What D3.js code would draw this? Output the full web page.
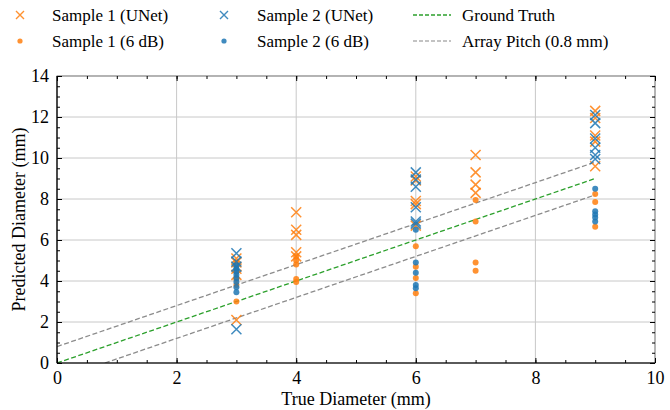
<!DOCTYPE html>
<html><head><meta charset="utf-8">
<script src="https://cdn.jsdelivr.net/npm/d3@7"></script>
<style>body{margin:0;background:#fff}svg{display:block}</style>
</head><body><svg id="c" width="670" height="410"></svg>
<script>
// ---- data ----
const s1UnetX = [3,3,3,3,3, 4,4,4,4,4, 6,6,6,6,6, 7,7,7,7, 9,9,9,9,9];
const s1UnetY = [5.1,4.9,4.6,4.3,2.1, 7.35,6.5,6.25,5.4,5.2, 9.1,8.9,7.9,7.75,6.7, 10.15,9.3,8.7,8.3, 12.3,11.95,11.1,10.8,9.6];
const s2UnetX = [3,3,3,3, 6,6,6,6,6,6, 9,9,9,9,9,9];
const s2UnetY = [5.35,4.95,4.7,1.65, 9.3,8.95,8.6,7.6,6.9,6.8, 12.1,11.7,10.95,10.5,10.15,9.95];
const s1DbX = [3,3,3,3,3, 4,4,4,4,4, 6,6,6,6, 7,7,7,7, 9,9,9];
const s1DbY = [4.9,4.5,4.1,3.8,3.0, 5.2,5.0,4.8,4.1,3.95, 5.7,4.7,4.15,3.4, 7.95,6.9,4.9,4.5, 8.25,7.85,6.65];
const s2DbX = [3,3,3,3,3,3,3,3, 6,6,6,6,6, 9,9,9,9,9];
const s2DbY = [4.75,4.6,4.45,4.3,4.15,3.95,3.7,3.45, 6.5,4.9,4.4,3.8,3.65, 8.5,7.4,7.25,7.1,6.9];
const lineXs = [0, 9];
const pitch = 0.8;
const xTicks = [0,2,4,6,8,10];
const yTicks = [0,2,4,6,8,10,12,14];
const legendLabels = ["Sample 1 (UNet)","Sample 1 (6 dB)","Sample 2 (UNet)","Sample 2 (6 dB)","Ground Truth","Array Pitch (0.8 mm)"];

// ---- chart ----
const W=670,H=410, L=57, R=655, T=76, B=363;
const FONT='"Liberation Serif","Times New Roman","DejaVu Serif",serif';
const FS=18, LFS=17;
const orange="#ff7f0e", blue="#1f77b4", green="#2ca02c", gray="#8c8c8c";
const svg=d3.select("#c");
const x=d3.scaleLinear().domain([0,10]).range([L,R]);
const y=d3.scaleLinear().domain([0,14]).range([B,T]);

// grid
const g=svg.append("g");
g.selectAll(".gx").data(xTicks.slice(1,-1)).join("line")
 .attr("x1",d=>x(d)).attr("x2",d=>x(d)).attr("y1",T).attr("y2",B)
 .attr("stroke","#c8c8c8").attr("stroke-width",1);
g.selectAll(".gy").data(yTicks.slice(1,-1)).join("line")
 .attr("y1",d=>y(d)).attr("y2",d=>y(d)).attr("x1",L).attr("x2",R)
 .attr("stroke","#c8c8c8").attr("stroke-width",1);

// reference lines
svg.append("clipPath").attr("id","cp").append("rect").attr("x",L).attr("y",T).attr("width",R-L).attr("height",B-T);
const lg=svg.append("g").attr("clip-path","url(#cp)");
const ln=d3.line().x(d=>x(d[0])).y(d=>y(d[1]));
lg.append("path").attr("d",ln(lineXs.map(v=>[v,v+pitch]))).attr("fill","none").attr("stroke",gray).attr("stroke-width",1.3).attr("stroke-dasharray","5,2.5");
lg.append("path").attr("d",ln([[pitch,0],[lineXs[1],lineXs[1]-pitch]])).attr("fill","none").attr("stroke",gray).attr("stroke-width",1.3).attr("stroke-dasharray","5,2.5");
lg.append("path").attr("d",ln(lineXs.map(v=>[v,v]))).attr("fill","none").attr("stroke",green).attr("stroke-width",1.3).attr("stroke-dasharray","5,2.5");

// markers
function crosses(xs,ys,col){
  const s=5;
  svg.append("g").selectAll("path").data(xs.map((v,i)=>[v,ys[i]])).join("path")
   .attr("d",d=>{const cx=x(d[0]),cy=y(d[1]);return `M${cx-s},${cy-s}L${cx+s},${cy+s}M${cx-s},${cy+s}L${cx+s},${cy-s}`;})
   .attr("stroke",col).attr("stroke-width",1.5).attr("fill","none").attr("opacity",0.85);
}
function dots(xs,ys,col){
  svg.append("g").selectAll("circle").data(xs.map((v,i)=>[v,ys[i]])).join("circle")
   .attr("cx",d=>x(d[0])).attr("cy",d=>y(d[1])).attr("r",3).attr("fill",col).attr("opacity",0.85);
}
crosses(s1UnetX,s1UnetY,orange);
dots(s1DbX,s1DbY,orange);
crosses(s2UnetX,s2UnetY,blue);
dots(s2DbX,s2DbY,blue);

// axes frame
svg.append("rect").attr("x",L).attr("y",T).attr("width",R-L).attr("height",B-T).attr("fill","none").attr("stroke","#444").attr("stroke-width",0.8);
svg.append("line").attr("x1",L).attr("x2",R).attr("y1",B).attr("y2",B).attr("stroke","#000").attr("stroke-width",1.2);
svg.append("line").attr("x1",L).attr("x2",L).attr("y1",T).attr("y2",B).attr("stroke","#000").attr("stroke-width",1.2);

// ticks (inward, all sides)
function style(sel){
  sel.attr("font-family",FONT).attr("font-size",FS);
  sel.select(".domain").remove();
  sel.selectAll("line").attr("stroke","#000");
  sel.selectAll("text").attr("font-family",FONT).attr("font-size",FS).attr("fill","#000");
}
const minorX=d3.range(0,10.01,0.5), minorY=d3.range(0,14.01,0.5);
svg.append("g").attr("transform",`translate(0,${B})`).call(d3.axisBottom(x).tickValues(xTicks).tickSize(-5).tickPadding(8).tickFormat(d3.format("d"))).call(style);
svg.append("g").attr("transform",`translate(0,${B})`).call(d3.axisBottom(x).tickValues(minorX).tickSize(-3).tickFormat("")).call(style);
svg.append("g").attr("transform",`translate(${L},0)`).call(d3.axisLeft(y).tickValues(yTicks).tickSize(-5).tickPadding(8).tickFormat(d3.format("d"))).call(style);
svg.append("g").attr("transform",`translate(${L},0)`).call(d3.axisLeft(y).tickValues(minorY).tickSize(-3).tickFormat("")).call(style);
svg.append("g").attr("transform",`translate(0,${T})`).call(d3.axisTop(x).tickValues(xTicks).tickSize(-5).tickFormat("")).call(style);
svg.append("g").attr("transform",`translate(0,${T})`).call(d3.axisTop(x).tickValues(minorX).tickSize(-3).tickFormat("")).call(style);
svg.append("g").attr("transform",`translate(${R},0)`).call(d3.axisRight(y).tickValues(yTicks).tickSize(-5).tickFormat("")).call(style);
svg.append("g").attr("transform",`translate(${R},0)`).call(d3.axisRight(y).tickValues(minorY).tickSize(-3).tickFormat("")).call(style);

// axis titles
svg.append("text").attr("x",(L+R)/2).attr("y",405).attr("text-anchor","middle").attr("font-family",FONT).attr("font-size",FS).text("True Diameter (mm)");
svg.append("text").attr("transform",`translate(25,${(T+B)/2}) rotate(-90)`).attr("text-anchor","middle").attr("font-family",FONT).attr("font-size",FS).text("Predicted Diameter (mm)");

// legend
const leg=svg.append("g");
const items=[
 {t:legendLabels[0],kind:"x",c:orange,mx:20,tx:52,y:15},
 {t:legendLabels[1],kind:"o",c:orange,mx:20,tx:52,y:41},
 {t:legendLabels[2],kind:"x",c:blue,mx:224,tx:257,y:15},
 {t:legendLabels[3],kind:"o",c:blue,mx:224,tx:257,y:41},
 {t:legendLabels[4],kind:"l",c:green,mx:432,tx:462,y:15},
 {t:legendLabels[5],kind:"l",c:"#b0b0b0",mx:432,tx:462,y:41}
];
items.forEach(it=>{
  if(it.kind==="x"){const s=4;leg.append("path").attr("d",`M${it.mx-s},${it.y-s}L${it.mx+s},${it.y+s}M${it.mx-s},${it.y+s}L${it.mx+s},${it.y-s}`).attr("stroke",it.c).attr("stroke-width",1.4).attr("opacity",0.85);}
  else if(it.kind==="o"){leg.append("circle").attr("cx",it.mx).attr("cy",it.y).attr("r",2.6).attr("fill",it.c).attr("opacity",0.85);}
  else {leg.append("line").attr("x1",it.mx-19).attr("x2",it.mx+19).attr("y1",it.y).attr("y2",it.y).attr("stroke",it.c).attr("stroke-width",1.3).attr("stroke-dasharray","4,2");}
  leg.append("text").attr("x",it.tx).attr("y",it.y+6).attr("font-family",FONT).attr("font-size",LFS).text(it.t);
});
</script></body></html>
